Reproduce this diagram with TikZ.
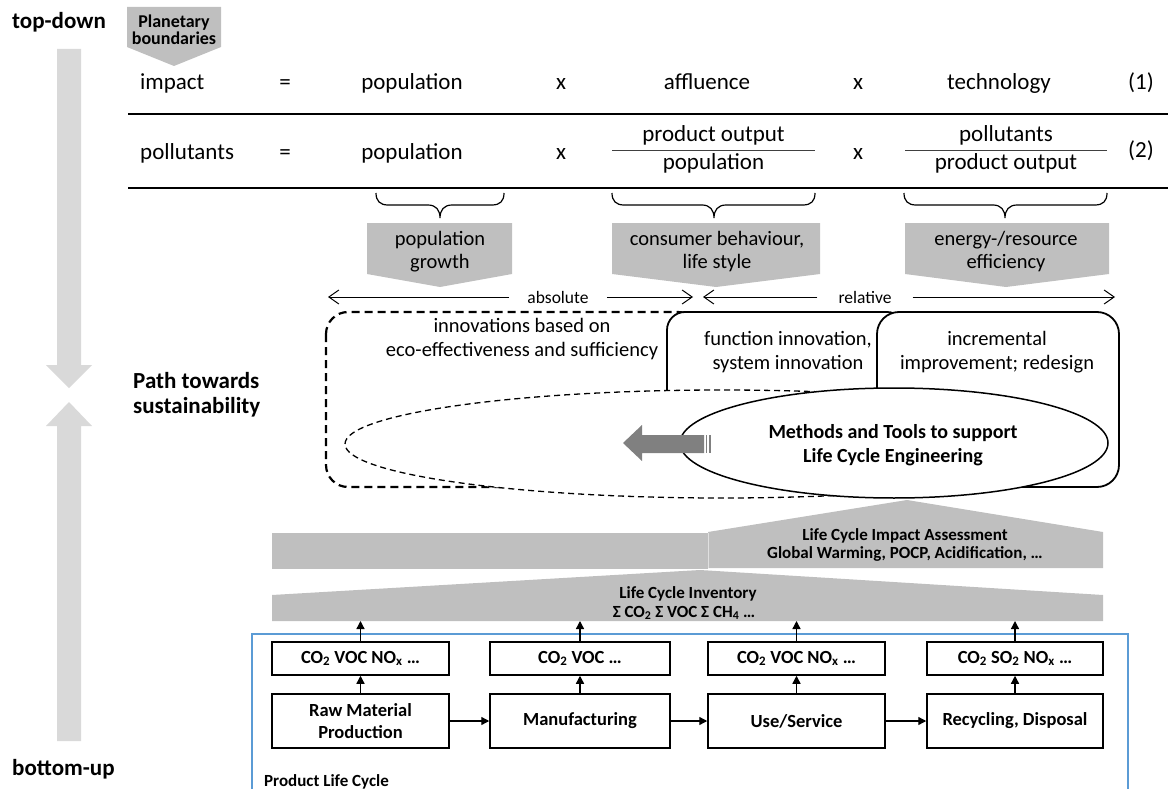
\documentclass[tikz,border=0pt]{standalone}
\usepackage{fontspec}
\setmainfont{Carlito}
\usetikzlibrary{arrows.meta,shapes.geometric}
\definecolor{boxgray}{HTML}{BFBFBF}
\definecolor{arrgray}{HTML}{D9D9D9}
\definecolor{darkarr}{HTML}{808080}
\definecolor{plcblue}{HTML}{5B9BD5}
\newcommand\fsEq{\fontsize{23}{27}\selectfont}
\newcommand\fsBox{\fontsize{20.5}{24}\selectfont}
\newcommand\fsLbl{\fontsize{17.5}{21}\selectfont}
\newcommand\fsSide{\fontsize{23}{27}\selectfont\bfseries}
\newcommand\fsPB{\fontsize{18}{21}\selectfont\bfseries}
\newcommand\fsMT{\fontsize{20}{24}\selectfont\bfseries}
\newcommand\fsLC{\fontsize{17}{20}\selectfont\bfseries}
\newcommand\fsStage{\fontsize{18.5}{21.5}\selectfont\bfseries}
\tikzset{
  eqtxt/.style={anchor=base, font=\fsEq, inner sep=0pt},
  boxtxt/.style={anchor=base, font=\fsBox, inner sep=0pt},
  sidetxt/.style={anchor=base west, font=\fsSide, inner sep=0pt},
  pbtxt/.style={anchor=base, font=\fsPB, inner sep=0pt},
  mttxt/.style={anchor=base, font=\fsMT, inner sep=0pt},
  lctxt/.style={anchor=base, font=\fsLC, inner sep=0pt},
  rangelbl/.style={font=\fsLbl, fill=white, inner ysep=2pt},
  rangearr/.style={line width=1pt, -{Straight Barb[length=10pt,width=14pt]}},
  eqline/.style={line width=2pt},
  fracline/.style={line width=1pt, black!75},
  bracestyle/.style={line width=1.2pt},
  stagebox/.style={draw, line width=1.5pt, fill=white, font=\fsStage, align=center, minimum width=177pt, inner sep=0pt},
  emitbox/.style={stagebox, minimum height=33pt},
  procbox/.style={stagebox, minimum height=54pt},
  flowarr/.style={line width=1.3pt, -{Triangle[length=8pt,width=8pt]}},
}
\begin{document}
\begin{tikzpicture}[x=1pt,y=-1pt]
\useasboundingbox (0,0) rectangle (1168,789);

% left vertical arrows
\fill[arrgray] (57,49) -- (81,49) -- (81,365) -- (92,365) -- (69,388) -- (46,365) -- (57,365) -- cycle;
\fill[arrgray] (69,402) -- (92,426) -- (81,426) -- (81,741) -- (57,741) -- (57,426) -- (46,426) -- cycle;
\node[sidetxt] (td) at (12,29) {top-down};
\node[sidetxt] (pts1) at (133,388) {Path towards};
\node[sidetxt] (pts2) at (133,413) {sustainability};
\node[sidetxt] (bu) at (12,775) {bottom-up};

% planetary boundaries
\fill[boxgray] (127,7) -- (221,7) -- (221,47) -- (174,66) -- (127,47) -- cycle;
\node[pbtxt] (pb1) at (174,28) {Planetary};
\node[pbtxt] (pb2) at (174,45) {boundaries};

% equation (1)
\node[eqtxt, anchor=base west] (i1) at (140,90) {impact};
\node[eqtxt] (e1) at (285,90) {=};
\node[eqtxt] (p1) at (412,90) {population};
\node[eqtxt] (x1) at (561,90) {x};
\node[eqtxt] (a1) at (707,90) {affluence};
\node[eqtxt] (x2) at (858,90) {x};
\node[eqtxt] (t1) at (999,90) {technology};
\node[eqtxt] (n1) at (1141,90) {(1)};
\draw[eqline] (128,114.5) -- (1168,114.5);

% equation (2)
\node[eqtxt, anchor=base west] (i2) at (140,160) {pollutants};
\node[eqtxt] (e2) at (285,160) {=};
\node[eqtxt] (p2) at (412,160) {population};
\node[eqtxt] (x3) at (561,160) {x};
\node[eqtxt] (f1n) at (713.5,142) {product output};
\draw[fracline] (612,151) -- (815,151);
\node[eqtxt] (f1d) at (713.5,170) {population};
\node[eqtxt] (x4) at (858,160) {x};
\node[eqtxt] (f2n) at (1006,142) {pollutants};
\draw[fracline] (905,151) -- (1107,151);
\node[eqtxt] (f2d) at (1006,170) {product output};
\node[eqtxt] (n2) at (1141,158) {(2)};
\draw[eqline] (128,188) -- (1168,188);

% braces
\draw[bracestyle] (376,193) .. controls (376,201) and (380,205) .. (388,205) -- (428,205) .. controls (436,205) and (440,210) .. (440,218) .. controls (440,210) and (444,205) .. (452,205) -- (492,205) .. controls (500,205) and (504,201) .. (504,193);
\draw[bracestyle] (612,193) .. controls (612,201) and (616,205) .. (624,205) -- (702,205) .. controls (710,205) and (714,210) .. (714,218) .. controls (714,210) and (718,205) .. (726,205) -- (803,205) .. controls (811,205) and (815,201) .. (815,193);
\draw[bracestyle] (904,193) .. controls (904,201) and (908,205) .. (916,205) -- (993,205) .. controls (1001,205) and (1005,210) .. (1005,218) .. controls (1005,210) and (1009,205) .. (1017,205) -- (1095,205) .. controls (1103,205) and (1107,201) .. (1107,193);

% gray pentagons
\fill[boxgray] (367,223) -- (512,223) -- (512,274) -- (440,287) -- (367,274) -- cycle;
\fill[boxgray] (612,223) -- (820,223) -- (820,274) -- (716,287) -- (612,274) -- cycle;
\fill[boxgray] (905,223) -- (1109,223) -- (1109,274) -- (1006,287) -- (905,274) -- cycle;
\node[boxtxt] (g1a) at (440,245) {population};
\node[boxtxt] (g1b) at (440,268) {growth};
\node[boxtxt] (g2a) at (717,245) {consumer behaviour,};
\node[boxtxt] (g2b) at (717,268) {life style};
\node[boxtxt] (g3a) at (1006,245) {energy-/resource};
\node[boxtxt] (g3b) at (1006,268) {efficiency};

% absolute / relative ranges
\coordinate (absL) at (328,297);
\coordinate (absR) at (693,297);
\coordinate (relL) at (703,297);
\coordinate (relR) at (1115,297);
\node[rangelbl, inner xsep=18pt] (abs) at (558,297) {absolute};
\node[rangelbl, inner xsep=21pt] (rel) at (865,297) {relative};
\draw[rangearr] (abs.west) -- (absL);
\draw[rangearr] (abs.east) -- (absR);
\draw[rangearr] (rel.west) -- (relL);
\draw[rangearr] (rel.east) -- (relR);

% innovation boxes
\draw[line width=2.2pt, dash pattern=on 8pt off 5pt, rounded corners=22pt] (326,312) rectangle (700,487);
\draw[line width=1.8pt, fill=white, rounded corners=18pt] (667,312) rectangle (905,445);
\draw[line width=1.8pt, fill=white, rounded corners=22pt] (877,312) rectangle (1119,487);
\draw[line width=1.3pt, dash pattern=on 6pt off 4pt, fill=white] (722,444) ellipse [x radius=377pt, y radius=54pt];
\node[draw, ellipse, line width=1.5pt, fill=white, minimum width=428pt, minimum height=110pt, inner sep=0pt] (mt) at (894,443) {};
\node[mttxt] (mt1) at (893,438) {Methods and Tools to support};
\node[mttxt] (mt2) at (893,462) {Life Cycle Engineering};
\node[boxtxt] (in1) at (522,332) {innovations based on};
\node[boxtxt] (in2) at (522,356) {eco-effectiveness and sufficiency};
\node[boxtxt] (fi1) at (788,345) {function innovation,};
\node[boxtxt] (fi2) at (788,369) {system innovation};
\node[boxtxt] (ir1) at (997,345) {incremental};
\node[boxtxt] (ir2) at (997,369) {improvement; redesign};

% big gray arrow
\fill[darkarr] (623,443) -- (642,425) -- (642,435) -- (704,435) -- (704,453) -- (642,453) -- (642,461) -- cycle;
\fill[darkarr] (705.5,435) rectangle (707,453);
\fill[darkarr] (709,435) rectangle (710.5,453);

% LCIA
\fill[boxgray] (272,533) rectangle (708,569);
\fill[boxgray] (708,532) -- (907,500) -- (1103,532) -- (1103,568) -- (708,568) -- cycle;
\draw[line width=0.8pt, black!12] (708.5,533) -- (708.5,568);
\node[lctxt] (lcia1) at (905,540) {Life Cycle Impact Assessment};
\node[lctxt] (lcia2) at (905,558) {Global Warming, POCP, Acidification, …};

% LCI
\fill[boxgray] (272,595) -- (700,570) -- (1103,595) -- (1103,621) -- (272,621) -- cycle;
\node[lctxt] (lci1t) at (688,598) {Life Cycle Inventory};
\node[lctxt] (lci2t) at (684,617) {Σ CO\textsubscript{2} Σ VOC Σ CH\textsubscript{4} …};

% product life cycle container
\draw[plcblue, line width=1.5pt] (252,789) -- (252,634) -- (1128,634) -- (1128,789);
\node[lctxt, anchor=base west] (plc) at (264,786) {Product Life Cycle};

% emission boxes
\node[emitbox] (E1) at (360.5,658.5) {CO\textsubscript{2} VOC NO\textsubscript{x} …};
\node[emitbox, minimum width=180pt] (E2) at (580,658.5) {CO\textsubscript{2} VOC …};
\node[emitbox] (E3) at (796.5,658.5) {CO\textsubscript{2} VOC NO\textsubscript{x} …};
\node[emitbox, minimum width=176pt] (E4) at (1015,658.5) {CO\textsubscript{2} SO\textsubscript{2} NO\textsubscript{x} …};

% process boxes
\node[procbox] (B1) at (360.5,721) {Raw Material\\Production};
\node[procbox, minimum width=180pt] (B2) at (580,721) {Manufacturing};
\node[procbox] (B3) at (796.5,721) {Use/Service};
\node[procbox, minimum width=176pt] (B4) at (1015,721) {Recycling,\ Disposal};

% connectors
\coordinate (L1) at (360.5,621);
\coordinate (L2) at (580,621);
\coordinate (L3) at (796.5,621);
\coordinate (L4) at (1015,621);
\foreach \i in {1,2,3,4} {
  \draw[flowarr] (B\i.north) -- (E\i.south);
  \draw[flowarr] (E\i.north) -- (L\i);
}
\draw[flowarr] (B1.east) -- (B2.west);
\draw[flowarr] (B2.east) -- (B3.west);
\draw[flowarr] (B3.east) -- (B4.west);
\end{tikzpicture}
\end{document}
